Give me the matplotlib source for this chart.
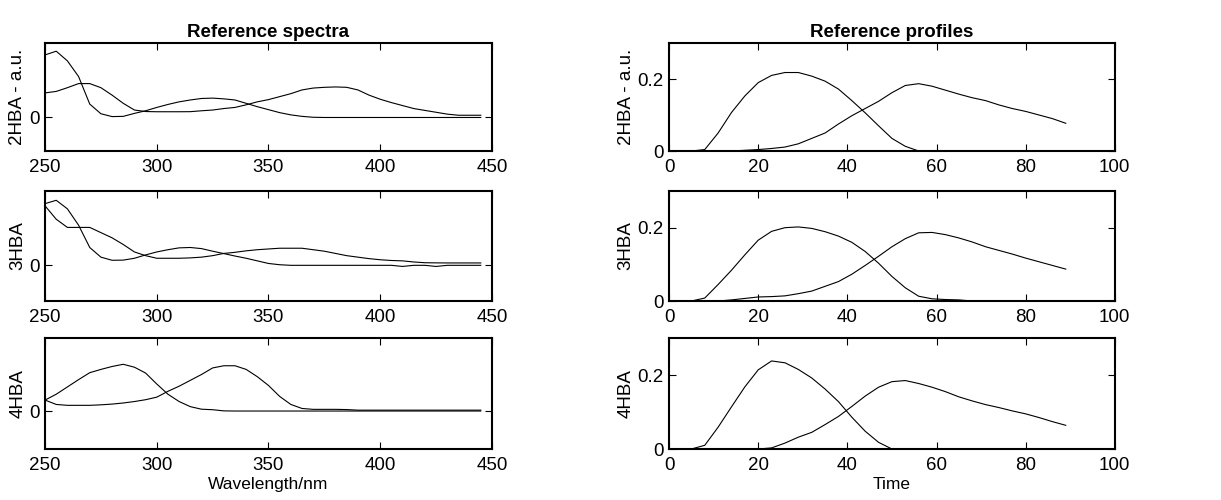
import numpy as np
import matplotlib
matplotlib.use('Agg')
import matplotlib.pyplot as plt

plt.rcParams['font.family'] = ['Liberation Sans', 'DejaVu Sans']

# wavelengths (nm) and times shared by all panels
wl = np.arange(250, 450, 5)
t = np.arange(2, 90, 3)

names = ['2HBA - a.u.', '3HBA', '4HBA']

# reference spectra, two components per analyte
spec_2hba_a = [0.84, 0.89, 0.76, 0.55, 0.18, 0.05, 0.012, 0.015, 0.055, 0.09,
               0.135, 0.175, 0.21, 0.235, 0.255, 0.26, 0.25, 0.235, 0.19, 0.145,
               0.105, 0.065, 0.035, 0.015, 0.003, 0, 0, 0, 0, 0,
               0, 0, 0, 0, 0, 0, 0, 0, 0, 0]
spec_2hba_b = [0.33, 0.35, 0.40, 0.455, 0.455, 0.40, 0.30, 0.19, 0.10, 0.08,
               0.077, 0.077, 0.077, 0.078, 0.09, 0.10, 0.12, 0.135, 0.17, 0.21,
               0.24, 0.28, 0.32, 0.37, 0.395, 0.405, 0.41, 0.405, 0.37, 0.30,
               0.245, 0.20, 0.16, 0.12, 0.095, 0.07, 0.045, 0.03, 0.03, 0.03]
spec_3hba_a = [0.83, 0.875, 0.76, 0.54, 0.24, 0.11, 0.068, 0.07, 0.095, 0.14,
               0.18, 0.21, 0.235, 0.24, 0.225, 0.19, 0.158, 0.125, 0.095, 0.06,
               0.025, 0.008, 0, 0, 0, 0, 0, 0, 0, 0,
               0, 0, -0.015, 0, 0, -0.015, 0, 0, 0, 0]
spec_3hba_b = [0.80, 0.62, 0.51, 0.51, 0.51, 0.44, 0.37, 0.28, 0.18, 0.13,
               0.095, 0.095, 0.095, 0.10, 0.11, 0.13, 0.16, 0.175, 0.195, 0.21,
               0.22, 0.23, 0.23, 0.23, 0.21, 0.19, 0.16, 0.13, 0.11, 0.09,
               0.075, 0.065, 0.06, 0.045, 0.035, 0.033, 0.032, 0.032, 0.032, 0.032]
spec_4hba_a = [0.15, 0.23, 0.33, 0.43, 0.525, 0.57, 0.61, 0.64, 0.60, 0.52,
               0.37, 0.23, 0.13, 0.06, 0.025, 0.018, 0.002, 0, 0, 0,
               0, 0, 0, 0, 0, 0, 0, 0, 0, 0,
               0, 0, 0, 0, 0, 0, 0, 0, 0, 0]
spec_4hba_b = [0.15, 0.09, 0.078, 0.078, 0.078, 0.085, 0.095, 0.11, 0.13, 0.155,
               0.19, 0.27, 0.34, 0.42, 0.50, 0.59, 0.62, 0.62, 0.57, 0.47,
               0.35, 0.20, 0.09, 0.035, 0.023, 0.023, 0.023, 0.02, 0.012, 0.012,
               0.012, 0.012, 0.012, 0.012, 0.012, 0.012, 0.012, 0.012, 0.012, 0.012]

# reference concentration profiles
prof_2hba_a = [0, 0, 0.004, 0.05, 0.107, 0.153, 0.19, 0.21, 0.218, 0.218,
               0.208, 0.194, 0.172, 0.14, 0.106, 0.07, 0.035, 0.013, 0, 0,
               0, 0, 0, 0, 0, 0, 0, 0, 0, 0]
prof_2hba_b = [0, 0, 0, 0, 0, 0.002, 0.004, 0.007, 0.011, 0.02,
               0.035, 0.05, 0.075, 0.098, 0.118, 0.138, 0.162, 0.182, 0.187, 0.18,
               0.169, 0.158, 0.148, 0.14, 0.128, 0.118, 0.11, 0.1, 0.09, 0.077]
prof_3hba_a = [0, 0, 0.008, 0.045, 0.084, 0.126, 0.166, 0.19, 0.2, 0.202,
               0.198, 0.189, 0.177, 0.16, 0.135, 0.103, 0.067, 0.036, 0.013, 0.006,
               0.004, 0.003, 0, 0, 0, 0, 0, 0, 0, 0]
prof_3hba_b = [0, 0, 0, 0, 0.003, 0.007, 0.011, 0.012, 0.014, 0.02,
               0.027, 0.04, 0.053, 0.073, 0.097, 0.122, 0.148, 0.17, 0.186, 0.187,
               0.181, 0.172, 0.161, 0.148, 0.138, 0.128, 0.117, 0.107, 0.097, 0.087]
prof_4hba_a = [0, 0, 0.01, 0.059, 0.114, 0.168, 0.214, 0.238, 0.233, 0.215,
               0.192, 0.162, 0.128, 0.086, 0.048, 0.018, 0, 0, 0, 0,
               0, 0, 0, 0, 0, 0, 0, 0, 0, 0]
prof_4hba_b = [0, 0, 0, 0, 0, 0, 0, 0.003, 0.016, 0.032,
               0.045, 0.066, 0.088, 0.115, 0.143, 0.167, 0.182, 0.185, 0.177, 0.167,
               0.155, 0.141, 0.13, 0.12, 0.112, 0.103, 0.095, 0.085, 0.074, 0.064]

spectra = [(spec_2hba_a, spec_2hba_b), (spec_3hba_a, spec_3hba_b), (spec_4hba_a, spec_4hba_b)]
profiles = [(prof_2hba_a, prof_2hba_b), (prof_3hba_a, prof_3hba_b), (prof_4hba_a, prof_4hba_b)]
spec_ylims = [(-0.45, 1.0), (-0.48, 1.0), (-0.52, 1.0)]

fig = plt.figure(figsize=(12.21, 5.0), dpi=100)

bottoms = [0.698, 0.398, 0.102]
heights = [0.216, 0.22, 0.222]


def style(ax):
    ax.tick_params(direction='in', top=True, right=True, length=5, width=0.8,
                   labelsize=13.5)
    ax.tick_params(axis='x', pad=6)
    ax.tick_params(axis='y', pad=4)
    for s in ax.spines.values():
        s.set_linewidth(1.5)


for i in range(3):
    ax = fig.add_axes([0.0369, bottoms[i], 0.366, heights[i]])
    a, b = spectra[i]
    ax.plot(wl, a, color='black', lw=0.8)
    ax.plot(wl, b, color='black', lw=0.8)
    ax.set_xlim(250, 450)
    ax.set_ylim(*spec_ylims[i])
    ax.set_xticks([250, 300, 350, 400, 450])
    ax.set_yticks([0])
    ax.set_ylabel(names[i], fontsize=13.5, labelpad=2)
    style(ax)
    if i == 0:
        ax.set_title('Reference spectra', fontsize=13.5, fontweight='bold', pad=4)
    if i == 2:
        ax.set_xlabel('Wavelength/nm', fontsize=12.5, labelpad=2)

    ax = fig.add_axes([0.548, bottoms[i], 0.365, heights[i]])
    a, b = profiles[i]
    ax.plot(t, a, color='black', lw=0.8)
    ax.plot(t, b, color='black', lw=0.8)
    ax.set_xlim(0, 100)
    ax.set_ylim(0, 0.3)
    ax.set_xticks([0, 20, 40, 60, 80, 100])
    ax.set_yticks([0, 0.2])
    ax.set_yticklabels(['0', '0.2'])
    ax.set_ylabel(names[i], fontsize=13.5, labelpad=2)
    style(ax)
    if i == 0:
        ax.set_title('Reference profiles', fontsize=13.5, fontweight='bold', pad=4)
    if i == 2:
        ax.set_xlabel('Time', fontsize=12.5, labelpad=2)

fig.savefig('out.png', dpi=100)
